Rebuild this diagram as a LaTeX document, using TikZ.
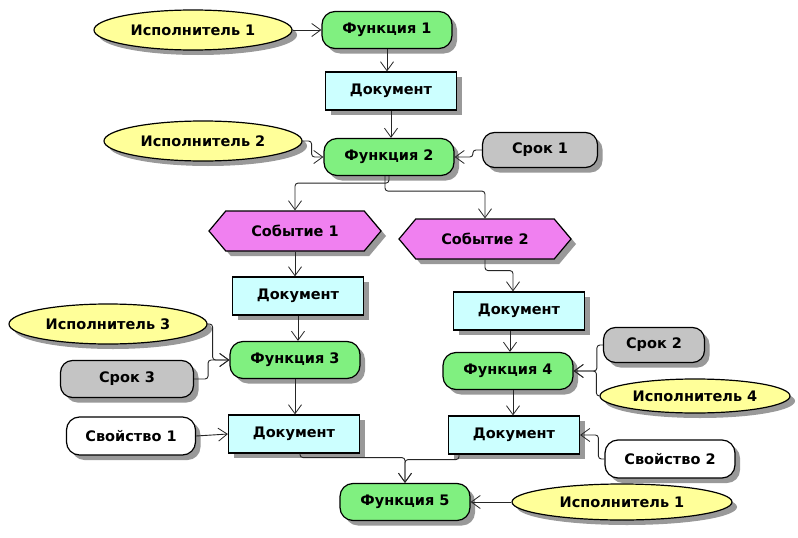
\documentclass[tikz,border=0pt]{standalone}
\usepackage{fontspec}
\setmainfont{DejaVu Sans}
\usetikzlibrary{shapes.geometric,shapes.symbols,shadows,arrows.meta}
\definecolor{execY}{HTML}{FFFF99}
\definecolor{funcG}{HTML}{80F080}
\definecolor{docB}{HTML}{CCFFFF}
\definecolor{evtP}{HTML}{F080F0}
\definecolor{termG}{HTML}{C4C4C4}
\tikzset{
  base/.style={draw=black, line width=1.2pt, font=\bfseries\fontsize{14.5}{16}\selectfont,
    inner sep=0pt, drop shadow={shadow xshift=5pt, shadow yshift=-5pt, fill=black!50, opacity=0.8}},
  executor/.style={base, ellipse, fill=execY, minimum width=198pt, minimum height=40pt},
  func/.style={base, rectangle, rounded corners=13pt, fill=funcG, minimum width=130pt, minimum height=37pt},
  doc/.style={base, rectangle, fill=docB, minimum width=131pt, minimum height=38pt},
  event/.style={base, signal, signal to=east and west, signal pointer angle=100, fill=evtP,
    minimum width=172pt, minimum height=40pt},
  term/.style={base, rectangle, rounded corners=12pt, fill=termG, minimum width=115pt, minimum height=35pt},
  prop/.style={base, rectangle, rounded corners=13pt, fill=white, minimum width=129pt, minimum height=38pt},
  link/.style={draw=black!85, line width=0.9pt, rounded corners=3pt,
    -{Straight Barb[length=9pt, width=13pt, line width=0.8pt]}}
}
\begin{document}
\begin{tikzpicture}[x=1pt, y=-1pt]
\useasboundingbox (0,0) rectangle (798,538);
\fill[white] (0,0) rectangle (798,538);

% upper chain
\node[executor] (i1) at (193,30) {Исполнитель 1};
\node[func] (f1) at (387,30) {Функция 1};
\node[doc] (d1) at (391,91) {Документ};
\node[executor] (i2) at (203,141) {Исполнитель 2};
\node[func] (f2) at (389,157) {Функция 2};
\node[term] (s1) at (540,150) {Срок 1};

% branching events
\node[event] (e1) at (295,231) {Событие 1};
\node[event] (e2) at (485,239) {Событие 2};

% left branch
\node[doc] (d2) at (298,296) {Документ};
\node[executor] (i3) at (108,324) {Исполнитель 3};
\node[func] (f3) at (295,360) {Функция 3};
\node[term, minimum width=133pt, minimum height=37pt] (s3) at (127,379) {Срок 3};
\node[prop] (p1) at (131,436) {Свойство 1};
\node[doc] (d4) at (294,434) {Документ};

% right branch
\node[doc] (d3) at (519,311) {Документ};
\node[term, minimum width=101pt] (s2) at (654,345) {Срок 2};
\node[func] (f4) at (508,371) {Функция 4};
\node[executor, minimum width=190pt, minimum height=34pt] (i4) at (695,396) {Исполнитель 4};
\node[doc] (d5) at (514,435) {Документ};
\node[prop, minimum width=130pt] (p2) at (670,459) {Свойство 2};

% final function
\node[func] (f5) at (405,502) {Функция 5};
\node[executor, minimum width=220pt, minimum height=36pt] (i5) at (622,502) {Исполнитель 1};

% connectors
\draw[link] (i1.east) -- (f1.west);
\draw[link] (f1.south) -- (f1.south |- d1.north);
\draw[link] (d1.south) -- (d1.south |- f2.north);
\draw[link] (i2.east) -- ++(9,0) |- (f2.west);
\draw[link] (s1.west) -- ++(-9,0) |- (f2.east);
\draw[link] (f2.south) -- ++(0,7) -| (e1.north);
\draw[link] ([xshift=-4pt]f2.south) -- ++(0,15) -| (e2.north);
\draw[link] (e1.south) -- (e1.south |- d2.north);
\draw[link] (e2.south) -- ++(0,11) -| ([xshift=-6pt]d3.north);
\draw[link] (d2.south) -- (d2.south |- f3.north);
\draw[link] (i3.east) -- ++(5,0) |- (f3.west);
\draw[link] (s3.east) -- ++(14,0) |- (f3.west);
\draw[link] (f3.south) -- (f3.south |- d4.north);
\draw[link] ([xshift=-9pt]d3.south) -- ([xshift=-9pt]d3.south |- f4.north);
\draw[link] (s2.west) -- ++(-6,0) |- (f4.east);
\draw[link] (i4.west) -- ++(-3,0) |- (f4.east);
\draw[link] ([xshift=5pt]f4.south) -- ([xshift=5pt]f4.south |- d5.north);
\draw[link] (p1.east) -- (d4.west);
\draw[link] (p2.west) -- ++(-6,0) |- (d5.east);
\draw[link] ([xshift=6pt]d4.south) -- ++(0,4) -| (f5.north);
\draw[link] ([xshift=-55pt]d5.south) -- ++(0,5) -| (f5.north);
\draw[link] (i5.west) -- (f5.east);
\end{tikzpicture}
\end{document}
